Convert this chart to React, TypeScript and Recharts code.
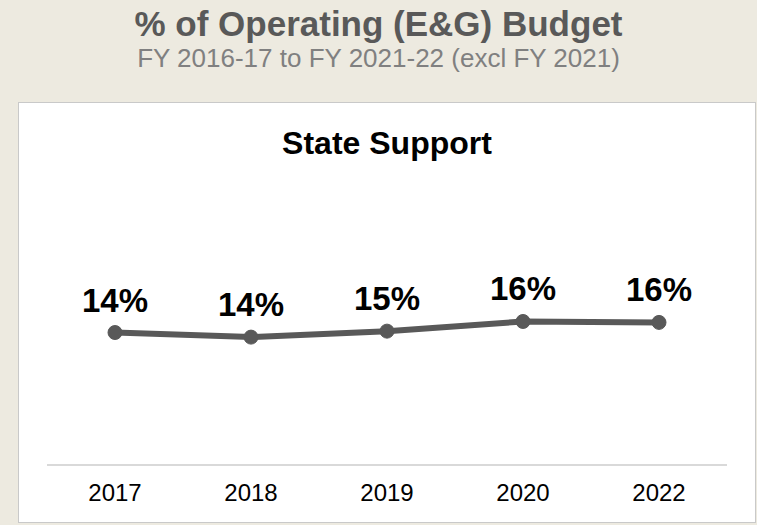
import React from "react";
import { LineChart, Line, XAxis, YAxis, LabelList } from "recharts";

const years = ["2017", "2018", "2019", "2020", "2022"];
const stateSupport = [14.4, 13.9, 14.55, 15.6, 15.5];

const data = years.map((y, i) => ({ year: y, value: stateSupport[i] }));

const FONT = "'Liberation Sans', Arial, sans-serif";

export default function App() {
  return (
    <div
      style={{
        position: "absolute",
        left: 0,
        top: 0,
        width: 757,
        height: 525,
        background: "#EDEAE0",
        fontFamily: FONT,
        overflow: "hidden",
      }}
    >
      <div
        style={{
          position: "absolute",
          left: 0,
          top: 5,
          width: 757,
          textAlign: "center",
          fontSize: 35,
          fontWeight: "bold",
          color: "#595959",
          lineHeight: "38px",
        }}
      >
        % of Operating (E&amp;G) Budget
      </div>
      <div
        style={{
          position: "absolute",
          left: 0,
          top: 44,
          width: 757,
          textAlign: "center",
          fontSize: 26,
          color: "#808080",
          lineHeight: "28px",
        }}
      >
        FY 2016-17 to FY 2021-22 (excl FY 2021)
      </div>
      <div
        style={{
          position: "absolute",
          left: 18,
          top: 102,
          width: 736,
          height: 419,
          background: "#ffffff",
          border: "1px solid #C9C9C9",
        }}
      >
        <div
          style={{
            position: "absolute",
            left: 0,
            top: 22,
            width: 736,
            textAlign: "center",
            fontSize: 32,
            fontWeight: "bold",
            color: "#000000",
            lineHeight: "36px",
          }}
        >
          State Support
        </div>
        <div style={{ position: "absolute", left: 0, top: 0 }}>
          <LineChart
            width={736}
            height={419}
            data={data}
            margin={{ top: 86, right: 28, bottom: 17, left: 28 }}
          >
            <XAxis
              dataKey="year"
              padding={{ left: 68, right: 68 }}
              axisLine={{ stroke: "#D9D9D9", strokeWidth: 2 }}
              tickLine={false}
              tickMargin={13}
              height={40}
              tick={{ fill: "#000000", fontSize: 24, fontFamily: FONT }}
            />
            <YAxis hide domain={[0, 30]} />
            <Line
              type="linear"
              dataKey="value"
              stroke="#595959"
              strokeWidth={6}
              dot={{ r: 7, fill: "#595959", stroke: "#595959", strokeWidth: 1 }}
              isAnimationActive={false}
            >
              <LabelList
                dataKey="value"
                position="top"
                offset={21}
                formatter={(v: number) => `${Math.round(v)}%`}
                style={{ fill: "#000000", fontSize: 33, fontWeight: "bold", fontFamily: FONT }}
              />
            </Line>
          </LineChart>
        </div>
      </div>
    </div>
  );
}
